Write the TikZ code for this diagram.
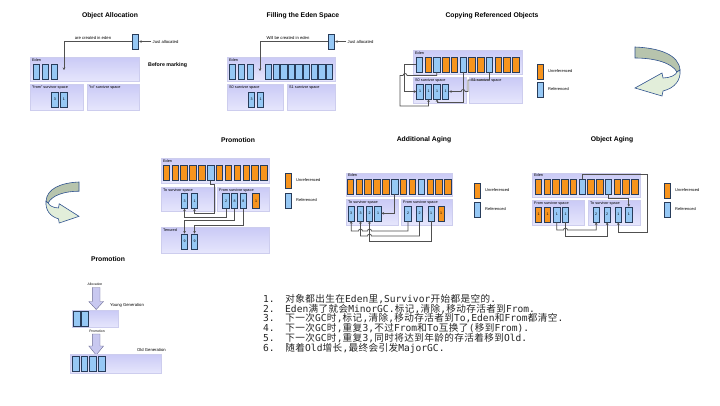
\documentclass[tikz,border=0pt]{standalone}
\usepackage{fontspec}
\setmainfont{Liberation Sans}
\newfontfamily\monof{DejaVu Sans Mono}
\newfontfamily\cjkfont{Noto Sans CJK SC}
\usetikzlibrary{arrows.meta}
\definecolor{objblue}{RGB}{150,200,245}
\definecolor{objorange}{RGB}{247,148,29}
\definecolor{objedge}{RGB}{40,60,90}
\definecolor{regtop}{RGB}{202,202,246}
\definecolor{regbot}{RGB}{230,230,252}
\definecolor{regedge}{RGB}{205,205,238}
\definecolor{conncol}{RGB}{80,80,80}
\definecolor{arrdark}{RGB}{183,196,173}
\definecolor{arrlight}{RGB}{226,238,218}
\definecolor{arredge}{RGB}{47,82,143}
\definecolor{barfill}{RGB}{200,200,240}
\definecolor{baredge}{RGB}{110,110,150}
\newcommand{\cj}[1]{\cjloop#1\relax}
\def\cjloop#1{\ifx\relax#1\else\makebox[10pt]{\cjkfont\fontsize{9.6}{10}\selectfont#1}\expandafter\cjloop\fi}
\begin{document}
\begin{tikzpicture}[x=1pt,y=-1pt,
 title/.style={font=\bfseries\fontsize{6.8}{8}\selectfont, inner sep=0},
 boldnote/.style={font=\bfseries\fontsize{5.3}{6}\selectfont, inner sep=0, anchor=west},
 lbl/.style={font=\fontsize{3.8}{4.5}\selectfont, inner sep=0, anchor=north west},
 note/.style={font=\fontsize{4.2}{5}\selectfont, inner sep=0},
 tiny/.style={font=\fontsize{3.4}{4}\selectfont, inner sep=0},
 region/.style={draw=regedge, line width=0.3pt, top color=regtop, bottom color=regbot, anchor=north west, inner sep=0},
 objb/.style={draw=objedge, line width=0.55pt, fill=objblue, minimum width=6.5pt, minimum height=15pt, inner sep=0, font=\fontsize{3.6}{4}\selectfont},
 objo/.style={objb, fill=objorange},
 conn/.style={draw=conncol, line width=0.75pt},
 arr/.style={conn, -{Stealth[length=2.6pt,width=2.6pt]}},
 legtxt/.style={font=\fontsize{4}{5}\selectfont, inner sep=0, anchor=west},
 txtline/.style={anchor=base west, inner sep=0, font=\monof\fontsize{9.6}{10}\selectfont, text=black!85},
 barrow/.style={fill=barfill, draw=baredge, line width=0.4pt},
 uarrdark/.style={fill=arrdark, draw=arredge, line width=0.6pt},
 uarrlight/.style={fill=arrlight, draw=arredge, line width=0.6pt}
]
\fill[white] (0,0) rectangle (720,405);
\useasboundingbox (0,0) rectangle (720,405);

% ---------------- Panel 1: Object Allocation
\node[title] (t1) at (110,16) {Object Allocation};
\node[region, minimum width=109pt, minimum height=24pt] (p1eden) at (30,57) {};
\node[lbl] (p1edenl) at (32,58.5) {Eden};
\foreach \i/\x in {1/36.5,2/45.5,3/54.5} \node[objb] (p1e\i) at (\x,71.5) {};
\node[region, minimum width=53pt, minimum height=26pt] (p1from) at (30,84) {};
\node[lbl] (p1froml) at (32,86) {"from" survivor space};
\node[region, minimum width=52pt, minimum height=26pt] (p1to) at (87,84) {};
\node[lbl] (p1tol) at (89,86) {"to" survivor space};
\node[objb] (p1f1) at (55,99.5) {3};
\node[objb] (p1f2) at (64,99.5) {1};
\node[objb] (p1new) at (135.5,41.5) {};
\coordinate (p1tip) at (64,70);
\draw[arr] (p1new.west) -| (p1tip);
\node[note] (p1cr) at (93,37.5) {are created in eden};
\node[note, anchor=west, inner xsep=1.5pt] (p1ja) at (151,41.5) {Just allocated};
\draw[arr] (p1ja.west) -- (p1new.east);
\node[boldnote] (p1bm) at (148,65) {Before marking};

% ---------------- Panel 2: Filling the Eden Space
\node[title] (t2) at (303,16) {Filling the Eden Space};
\node[region, minimum width=108pt, minimum height=24pt] (p2eden) at (227,57) {};
\node[lbl] (p2edenl) at (229,58.5) {Eden};
\foreach \i/\x in {1/232.5,2/241.5,3/250.5} \node[objb] (p2e\i) at (\x,71.5) {};
\foreach \i in {4,...,12} \node[objb] (p2e\i) at ({268.5+7.6*(\i-4)},71.5) {};
\node[region, minimum width=56pt, minimum height=26pt] (p2s0) at (227,84) {};
\node[lbl] (p2s0l) at (229,86) {S0 survivor space};
\node[region, minimum width=48pt, minimum height=26pt] (p2s1) at (287,84) {};
\node[lbl] (p2s1l) at (289,86) {S1 survivor space};
\node[objb] (p2f1) at (251.5,99.5) {3};
\node[objb] (p2f2) at (260.5,99.5) {1};
\node[objb] (p2new) at (331.5,41.5) {};
\coordinate (p2tip) at (260,71);
\draw[arr] (p2new.west) -| (p2tip);
\node[note] (p2cr) at (288,37.5) {Will be created in eden};
\node[note, anchor=west, inner xsep=1.5pt] (p2ja) at (346,41.5) {Just allocated};
\draw[arr] (p2ja.west) -- (p2new.east);

% ---------------- Panel 3: Copying Referenced Objects
\node[title] (t3) at (492,16) {Copying Referenced Objects};
\node[region, minimum width=109pt, minimum height=24pt] (p3eden) at (413,50) {};
\node[lbl] (p3edenl) at (415,51.3) {Eden};
\foreach \i/\s in {1/objb,2/objo,3/objb,4/objo,5/objo,6/objb,7/objo,8/objo,9/objb,10/objo,11/objo,12/objo}
  \node[\s] (c3e\i) at ({419.3+8.77*(\i-1)},64.5) {};
\node[region, minimum width=53pt, minimum height=26pt] (p3s0) at (413,77) {};
\node[lbl] (p3s0l) at (415,78.5) {S0 survivor space};
\node[region, minimum width=53pt, minimum height=26pt] (p3s1) at (469,77) {};
\node[lbl] (p3s1l) at (471,78.5) {S1 survivor space};
\foreach \i/\x in {1/420,2/428.5,3/437,4/445.5} \node[objb] (c3s\i) at (\x,91.5) {1};
\draw[arr] (c3e1.west) -- ++(-11,0) |- (c3s1.west);
\draw[arr] (c3e3.south) |- (407.05,75.5) arc (0:-180:2) -- (400,75.5) -- (400,106) -| (c3s2.south);
\draw[arr] (c3e6.south) -- ++(0,30.5) -| (c3s3.south);
\draw[arr] (c3e9.south) |- (468,80) -- (468,91.5) -- (465.15,91.5) arc (0:-180:2) -- (c3s4.east);
\node[objo] (p3lo) at (540.5,71.5) {};
\node[legtxt] (p3lot) at (548,71.5) {Unreferenced};
\node[objb] (p3lb) at (540.5,89.5) {};
\node[legtxt] (p3lbt) at (548,89.5) {Referenced};

% U-turn arrow (right)
\begin{scope}[shift={(635,47)}]
\filldraw[uarrdark] (0,0) .. controls (25,1) and (44,8) .. (45,23) -- (42,25) .. controls (37,16) and (20,11) .. (0,11) -- cycle;
\filldraw[uarrlight] (45,23) .. controls (46,33) and (40,41) .. (28,44) -- (27,49) -- (0,41) -- (27,26) -- (28,31) .. controls (35,31) and (41,28) .. (42,25) -- cycle;
\end{scope}
% U-turn arrow (left)
\begin{scope}[shift={(79,182)}, xscale=-0.733, yscale=0.837]
\filldraw[uarrdark] (0,0) .. controls (25,1) and (44,8) .. (45,23) -- (42,25) .. controls (37,16) and (20,11) .. (0,11) -- cycle;
\filldraw[uarrlight] (45,23) .. controls (46,33) and (40,41) .. (28,44) -- (27,49) -- (0,41) -- (27,26) -- (28,31) .. controls (35,31) and (41,28) .. (42,25) -- cycle;
\end{scope}

% ---------------- Panel 4: Promotion
\node[title] (t4) at (238,140) {Promotion};
\node[region, minimum width=108pt, minimum height=25pt] (p4eden) at (161,158) {};
\node[lbl] (p4edenl) at (163,159.3) {Eden};
\foreach \i/\s in {1/objo,2/objo,3/objo,4/objo,5/objo,6/objb,7/objo,8/objo,9/objo,10/objo,11/objo,12/objo}
  \node[\s] (c4e\i) at ({166.3+8.86*(\i-1)},173) {};
\node[region, minimum width=54pt, minimum height=24pt] (p4to) at (161,187) {};
\node[lbl] (p4tol) at (163,188.5) {To survivor space};
\node[region, minimum width=52pt, minimum height=24pt] (p4from) at (217,187) {};
\node[lbl] (p4froml) at (219,188.5) {From survivor space};
\node[objb] (c4t1) at (184.5,200.8) {3};
\node[objb] (c4t2) at (194.5,200.8) {1};
\node[objb] (c4f1) at (226,200.8) {2};
\node[objb] (c4f2) at (234.5,200.8) {8};
\node[objb] (c4f3) at (243.3,200.8) {8};
\node[objo] (c4f4) at (256,200.8) {1};
\node[region, minimum width=108pt, minimum height=26pt] (p4ten) at (161,227) {};
\node[lbl] (p4tenl) at (163,228.5) {Tenured};
\node[objb] (c4n1) at (184.5,241.5) {9};
\node[objb] (c4n2) at (194.5,241.5) {9};
\draw[arr] (c4e6.south) -- ++(0,4) -| (214,213) -| (c4t2.south);
\draw[arr] (c4f1.south) -- ++(0,8.4) -| (c4t1.south);
\draw[arr] (c4f2.south) -- ++(0,12) -| (c4n1.north);
\draw[arr] (c4f3.south) -- ++(0,17) -| (c4n2.north);
\node[objo] (p4lo) at (288.5,180.5) {};
\node[legtxt] (p4lot) at (296,180.5) {Unreferenced};
\node[objb] (p4lb) at (288.5,200.5) {};
\node[legtxt] (p4lbt) at (296,200.5) {Referenced};

% ---------------- Panel 5: Additional Aging
\node[title] (t5) at (424,140) {Additional Aging};
\node[region, minimum width=106pt, minimum height=23pt] (p5eden) at (346,173) {};
\node[lbl] (p5edenl) at (348,174) {Eden};
\foreach \i/\s in {1/objo,2/objo,3/objo,4/objo,5/objo,6/objb,7/objo,8/objo,9/objb,10/objo,11/objo,12/objo}
  \node[\s] (c5e\i) at ({350.3+8.86*(\i-1)},186.7) {};
\node[region, minimum width=52pt, minimum height=26pt] (p5to) at (346,199) {};
\node[lbl] (p5tol) at (348,200.5) {To survivor space};
\node[region, minimum width=51pt, minimum height=26pt] (p5from) at (401,199) {};
\node[lbl] (p5froml) at (403,200.5) {From survivor space};
\foreach \i/\x/\t in {1/351.2/3,2/360.5/3,3/369.5/2,4/378/1} \node[objb] (c5t\i) at (\x,213.3) {\t};
\foreach \i/\x/\t in {1/408/2,2/419.5/2,3/431.2/1} \node[objb] (c5f\i) at (\x,213.3) {\t};
\node[objo] (c5f4) at (441.2,213.3) {1};
\draw[arr] (c5e6.south) |- (c5t4.east);
\draw[arr] (c5f1.south) |- (371.5,231) arc (0:-180:2) -- (362.5,231) arc (0:-180:2) -| (c5t1.south);
\draw[arr] (c5f2.south) |- (371.5,236) arc (0:-180:2) -| (c5t2.south);
\draw[arr] (c5f3.south) -- ++(0,20.2) -| (c5t3.south);
\node[objo] (p5lo) at (477.5,190.5) {};
\node[legtxt] (p5lot) at (485,190.5) {Unreferenced};
\node[objb] (p5lb) at (477.5,209.5) {};
\node[legtxt] (p5lbt) at (485,209.5) {Referenced};

% ---------------- Panel 6: Object Aging
\node[title] (t6) at (612,140) {Object Aging};
\node[region, minimum width=108pt, minimum height=24pt] (p6eden) at (532,173) {};
\node[lbl] (p6edenl) at (534,174) {Eden};
\foreach \i/\s in {1/objo,2/objo,3/objo,4/objo,5/objo,6/objb,7/objo,8/objo,9/objb,10/objo,11/objo,12/objo}
  \node[\s] (c6e\i) at ({538.3+8.77*(\i-1)},186.5) {};
\node[region, minimum width=52pt, minimum height=25pt] (p6from) at (532,200) {};
\node[lbl] (p6froml) at (534,201.5) {From survivor space};
\node[region, minimum width=52pt, minimum height=25pt] (p6to) at (588,200) {};
\node[lbl] (p6tol) at (590,201.5) {To survivor space};
\node[objo] (c6f1) at (538.5,214.5) {1};
\node[objo] (c6f2) at (547.5,214.5) {1};
\node[objb] (c6f3) at (556.8,214.5) {1};
\node[objb] (c6f4) at (565.5,214.5) {1};
\foreach \i/\x/\t in {1/596.2/2,2/607.2/2,3/618.3/1,4/628.8/1} \node[objb] (c6t\i) at (\x,214.5) {\t};
\draw[arr] (c6e6.north) -- ++(0,-4.5) -| (647,232) -| (c6t3.south);
\draw[arr] (c6e9.south) -- ++(0,4) -| (c6t4.north);
\draw[arr] (c6f3.south) |- (563.5,230) arc (180:360:2) -| (c6t1.south);
\draw[arr] (c6f4.south) -- ++(0,14.5) -| (c6t2.south);
\node[objo] (p6lo) at (667.5,190.5) {};
\node[legtxt] (p6lot) at (675,190.5) {Unreferenced};
\node[objb] (p6lb) at (667.5,209.5) {};
\node[legtxt] (p6lbt) at (675,209.5) {Referenced};

% ---------------- Bottom-left: Promotion overview
\node[title] (t7) at (108,259) {Promotion};
\node[tiny] (p7al) at (95,284) {Allocation};
\path[barrow] (92.3,287.5) -- (100,287.5) -- (100,301.5) -- (103.5,301.5) -- (96.2,309.5) -- (88.8,301.5) -- (92.3,301.5) -- cycle;
\node[note, anchor=west] (p7yg) at (110,305.5) {Young Generation};
\node[region, minimum width=46pt, minimum height=17pt] (p7young) at (72,310) {};
\node[objb] (p7y1) at (76.7,319) {};
\node[objb] (p7y2) at (85,319) {};
\node[tiny] (p7pr) at (97,331.5) {Promotion};
\path[barrow] (92.3,334) -- (100,334) -- (100,346) -- (103.5,346) -- (96.2,355) -- (88.8,346) -- (92.3,346) -- cycle;
\node[note, anchor=west] (p7og) at (137,350) {Old Generation};
\node[region, minimum width=91pt, minimum height=19pt] (p7old) at (70,354) {};
\foreach \i/\x in {1/75.7,2/84.3,3/92.7,4/101.7} \node[objb] (p7o\i) at (\x,363.5) {};

% ---------------- Text
\node[txtline] (l1) at (263,302.3) {\makebox[22pt][l]{1.}\cj{对象都出生在}Eden\cj{里},Survivor\cj{开始都是空的}.};
\node[txtline] (l2) at (263,312.05) {\makebox[22pt][l]{2.}Eden\cj{满了就会}MinorGC.\cj{标记},\cj{清除},\cj{移动存活者到}From.};
\node[txtline] (l3) at (263,321.8) {\makebox[22pt][l]{3.}\cj{下一次}GC\cj{时},\cj{标记},\cj{清除},\cj{移动存活者到}To,Eden\cj{和}From\cj{都清空}.};
\node[txtline] (l4) at (263,331.55) {\makebox[22pt][l]{4.}\cj{下一次}GC\cj{时},\cj{重复}3,\cj{不过}From\cj{和}To\cj{互换了}(\cj{移到}From).};
\node[txtline] (l5) at (263,341.3) {\makebox[22pt][l]{5.}\cj{下一次}GC\cj{时},\cj{重复}3,\cj{同时将达到年龄的存活着移到}Old.};
\node[txtline] (l6) at (263,351.05) {\makebox[22pt][l]{6.}\cj{随着}Old\cj{增长},\cj{最终会引发}MajorGC.};
\end{tikzpicture}
\end{document}
